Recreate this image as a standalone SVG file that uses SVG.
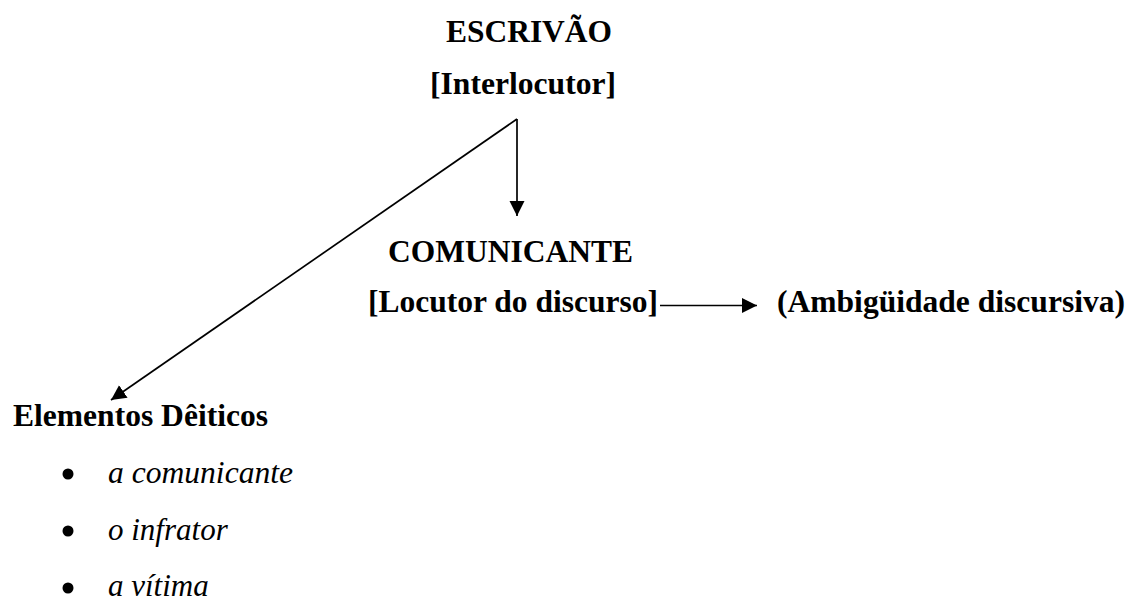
<svg xmlns="http://www.w3.org/2000/svg" width="1139" height="601" viewBox="0 0 1139 601">
<style>
text{font-family:"Liberation Serif","Times New Roman",serif;font-size:31px;fill:#000}
.b{font-weight:bold}
.i{font-style:italic}
.c{stroke:#000;stroke-width:1.7;fill:none}
</style>
<defs>
<marker id="ah" markerUnits="userSpaceOnUse" markerWidth="17" markerHeight="16" refX="15" refY="7.5" orient="auto">
<path d="M0,0 L15,7.5 L0,15 z" fill="#000"/>
</marker>
</defs>
<rect width="1139" height="601" fill="#fff"/>
<g id="connectors">
<line class="c" x1="517" y1="119" x2="517" y2="216" marker-end="url(#ah)"/>
<line class="c" x1="517" y1="119" x2="111" y2="400" marker-end="url(#ah)"/>
<line class="c" x1="660" y1="305.5" x2="757" y2="305.5" marker-end="url(#ah)"/>
</g>
<g id="escrivao">
<text class="b" x="446" y="42" textLength="166" lengthAdjust="spacingAndGlyphs">ESCRIVÃO</text>
<text class="b" x="430" y="94" textLength="186" lengthAdjust="spacingAndGlyphs">[Interlocutor]</text>
</g>
<g id="comunicante">
<text class="b" x="388" y="262" textLength="245" lengthAdjust="spacingAndGlyphs">COMUNICANTE</text>
<text class="b" x="368" y="312" textLength="290" lengthAdjust="spacingAndGlyphs">[Locutor do discurso]</text>
</g>
<g id="ambiguidade">
<text class="b" x="777" y="312" textLength="348" lengthAdjust="spacingAndGlyphs">(Ambigüidade discursiva)</text>
</g>
<g id="elementos">
<text class="b" x="13" y="426" textLength="255" lengthAdjust="spacingAndGlyphs">Elementos Dêiticos</text>
<circle cx="68" cy="474" r="5.5"/>
<text class="i" x="108" y="483" textLength="185" lengthAdjust="spacingAndGlyphs">a comunicante</text>
<circle cx="68" cy="531" r="5.5"/>
<text class="i" x="108" y="540">o infrator</text>
<circle cx="68" cy="588" r="5.5"/>
<text class="i" x="108" y="596">a vítima</text>
</g>
</svg>
